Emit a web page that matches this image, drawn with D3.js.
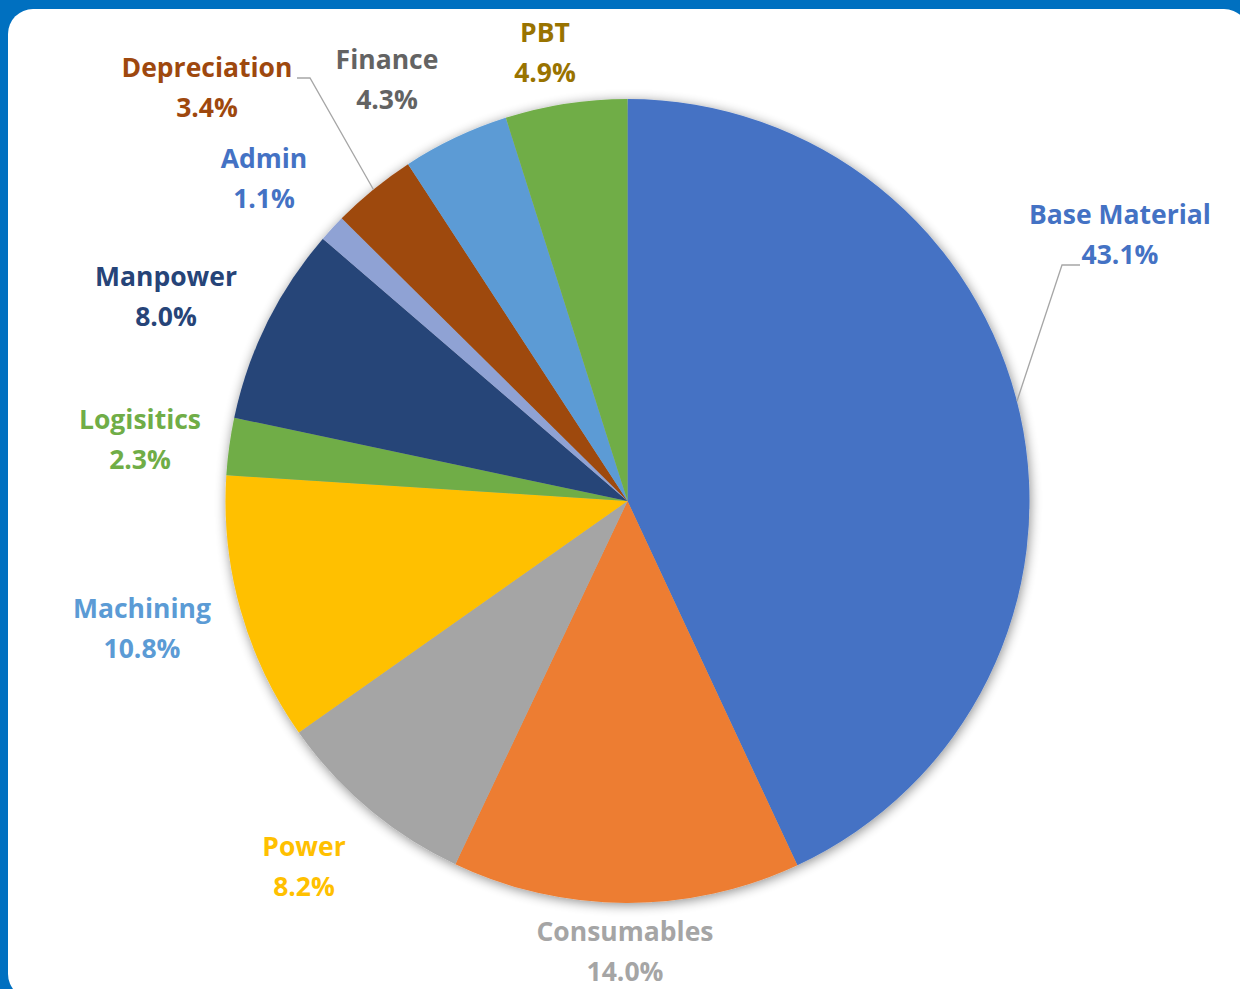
<!DOCTYPE html>
<html>
<head>
<meta charset="utf-8">
<script src="https://cdn.jsdelivr.net/npm/d3@7"></script>
<style>
html,body{margin:0;padding:0;background:#0070C0;}
svg{display:block;}
</style>
</head>
<body>
<svg id="chart" width="1240" height="989"></svg>
<script>
const categories = ["Base Material","Consumables","Power","Machining","Logisitics","Manpower","Admin","Depreciation","Finance","PBT"];
const values = [43.1,14.0,8.2,10.8,2.3,8.0,1.1,3.4,4.3,4.9];
const sliceColors = ["#4472C4","#ED7D31","#A5A5A5","#FFC000","#70AD47","#264478","#8FA2D4","#9E480E","#5B9BD5","#70AD47"];
const labelColors = ["#4472C4","#A5A5A5","#FFC000","#5B9BD5","#70AD47","#264478","#4472C4","#9E480E","#636363","#997300"];
// label anchor positions (text centre of first line)
const labelPos = [[1120,214],[625,931],[304,846],[142,608],[140,419],[166,276],[264,158],[207,67],[387,59],[545,32]];
const leaderTargets = {0:[[1062,265],[1080,265]], 7:[[310,78],[297,78]]};

const svg = d3.select("#chart");
svg.append("rect").attr("x",0).attr("y",0).attr("width",1240).attr("height",989).attr("fill","#0070C0");
svg.append("rect").attr("x",8).attr("y",9).attr("width",1241).attr("height",990).attr("rx",25).attr("ry",25).attr("fill","#ffffff");

const defs = svg.append("defs");
const f = defs.append("filter").attr("id","shadow").attr("x","-20%").attr("y","-20%").attr("width","140%").attr("height","140%");
f.append("feGaussianBlur").attr("in","SourceAlpha").attr("stdDeviation",6).attr("result","b");
f.append("feOffset").attr("in","b").attr("dx",1).attr("dy",2).attr("result","o");
f.append("feComponentTransfer").attr("in","o").attr("result","s").append("feFuncA").attr("type","linear").attr("slope",0.45);
const fm = f.append("feMerge");
fm.append("feMergeNode").attr("in","s");
fm.append("feMergeNode").attr("in","SourceGraphic");

const cx = 627.5, cy = 501, R = 402;
const data = categories.map((c,i)=>({name:c,value:values[i],i}));
const pie = d3.pie().sort(null).value(d=>d.value).startAngle(0).endAngle(2*Math.PI);
const arcs = pie(data);
const arc = d3.arc().innerRadius(0).outerRadius(R);

const g = svg.append("g").attr("transform",`translate(${cx},${cy})`);
const pg = g.append("g").attr("filter","url(#shadow)");
pg.selectAll("path").data(arcs).join("path")
  .attr("d",arc)
  .attr("fill",d=>sliceColors[d.data.i]);

// leader lines
Object.keys(leaderTargets).forEach(k=>{
  const a = arcs[+k];
  const pts = leaderTargets[k];
  let ang;
  if (+k===0) ang = 1.32; else ang = a.startAngle + (a.endAngle-a.startAngle)*0.5;
  const sx = cx + R*Math.sin(ang), sy = cy - R*Math.cos(ang);
  const line = d3.line();
  svg.append("path").attr("d",line([[sx,sy],...pts])).attr("fill","none").attr("stroke","#A6A6A6").attr("stroke-width",1.3);
});

const lg = svg.append("g").attr("font-family","'Open Sans', Lato, sans-serif").attr("font-weight",700).attr("font-size",26.5).attr("text-anchor","middle");
arcs.forEach((a,i)=>{
  const [x,y] = labelPos[i];
  const t = lg.append("text").attr("fill",labelColors[i]).attr("x",x).attr("y",y).attr("dominant-baseline","central");
  t.append("tspan").attr("x",x).attr("y",y).text(categories[i]);
  t.append("tspan").attr("x",x).attr("y",y+40).text(d3.format(".1f")(values[i])+"%");
});
</script>
</body>
</html>
